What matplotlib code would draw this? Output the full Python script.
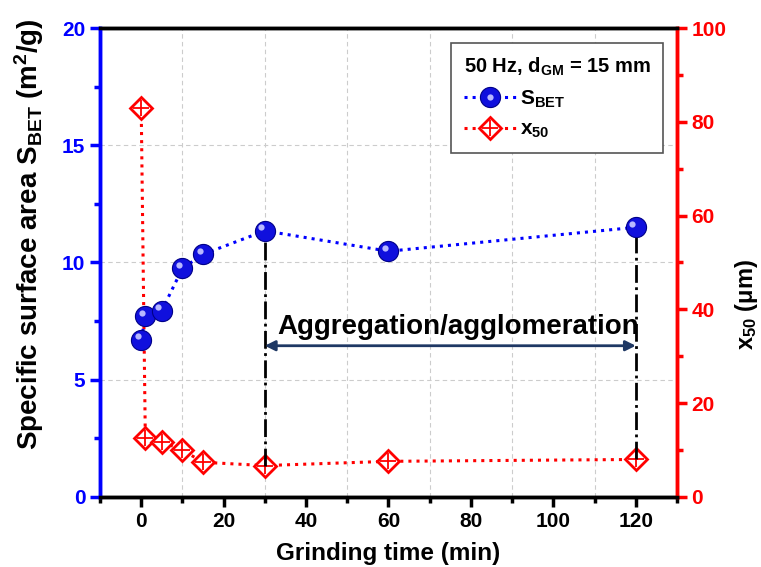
import numpy as np
import matplotlib.pyplot as plt
import matplotlib.transforms as mtrans
from matplotlib.legend_handler import HandlerTuple

plt.rcParams['font.family'] = ['Liberation Sans', 'DejaVu Sans']
plt.rcParams['font.weight'] = 'bold'
plt.rcParams['mathtext.fontset'] = 'custom'
plt.rcParams['mathtext.rm'] = 'Liberation Sans'
plt.rcParams['mathtext.bf'] = 'Liberation Sans:bold'
plt.rcParams['mathtext.it'] = 'Liberation Sans:italic'
plt.rcParams['mathtext.default'] = 'bf'

# Data
t_s = [0, 1, 5, 10, 15, 30, 60, 120]
s_bet = [6.7, 7.7, 7.95, 9.75, 10.35, 11.35, 10.48, 11.5]
t_x = [0, 1, 5, 10, 15, 30, 60, 120]
x50 = [83.0, 12.5, 11.8, 10.0, 7.4, 6.7, 7.6, 8.0]

fig = plt.figure(figsize=(7.61, 5.67), dpi=100)
ax = fig.add_axes([0.1314, 0.1235, 0.7582, 0.8271])
ax2 = ax.twinx()
ax.set_zorder(ax2.get_zorder() + 1)
ax.patch.set_visible(False)

# grid (on the back axes)
for gx in [10, 30, 50, 70, 90, 110]:
    ax2.axvline(gx, color='#cccccc', ls=(0, (4, 3)), lw=0.8, zorder=0)
for gy in [25, 50, 75]:
    ax2.axhline(gy, color='#cccccc', ls=(0, (4, 3)), lw=0.8, zorder=0)

# x50 on right axis
xd, = ax2.plot(t_x, x50, ls=':', color='#ff0000', lw=2.2, marker='D', ms=11.5,
               mfc='white', mec='#ff0000', mew=2, zorder=4)
xp, = ax2.plot(t_x, x50, ls='none', marker='+', ms=12, mec='#ff0000', mew=1.3, zorder=5)

# S_BET
sb, = ax.plot(t_s, s_bet, ls=':', color='#0000ff', lw=2.2, marker='o', ms=14.5,
              mfc='#1010dd', mec='#000088', mew=0.8, zorder=4)
hl, = ax.plot(t_s, s_bet, ls='none', marker='o', ms=4.5, mfc='#b8b8ff',
              mec='none', zorder=5)
hl.set_transform(ax.transData + mtrans.ScaledTranslation(-2.5 / 72, 2.5 / 72, fig.dpi_scale_trans))

# aggregation markers
ax.plot([30, 30], [x50[5] / 5, s_bet[5]], color='black', ls='-.', lw=2, zorder=2)
ax.plot([120, 120], [x50[7] / 5, s_bet[7]], color='black', ls='-.', lw=2, zorder=2)
ax.annotate('', xy=(30, 6.45), xytext=(120, 6.45),
            arrowprops=dict(arrowstyle='<|-|>', color='#1f3864', lw=2,
                            mutation_scale=15, shrinkA=0, shrinkB=0))
ax.text(77, 7.25, 'Aggregation/agglomeration', ha='center', va='center',
        fontsize=20, fontweight='bold')

ax.set_xlim(-10, 130)
ax.set_ylim(0, 20)
ax2.set_ylim(0, 100)
ax.set_xticks(np.arange(0, 121, 20))
ax.set_xticks(np.arange(-10, 131, 10), minor=True)
ax.set_yticks(np.arange(0, 21, 5))
ax.set_yticks(np.arange(0, 20.1, 2.5), minor=True)
ax2.set_yticks(np.arange(0, 101, 20))
ax2.set_yticks(np.arange(0, 101, 10), minor=True)

for a in (ax, ax2):
    for s in a.spines.values():
        s.set_linewidth(2.5)
    a.spines['left'].set_color('#0000ff')
    a.spines['right'].set_color('#ff0000')

ax.tick_params(axis='x', which='major', direction='out', length=7, width=2.5,
               labelsize=15, colors='black')
ax.tick_params(axis='x', which='minor', direction='out', length=4, width=2.5)
ax.tick_params(axis='y', which='major', direction='out', length=7, width=2.5,
               labelsize=15, colors='#0000ff')
ax.tick_params(axis='y', which='minor', direction='out', length=4, width=2.5,
               colors='#0000ff')
ax2.tick_params(axis='y', which='major', direction='out', length=7, width=2.5,
                labelsize=15, colors='#ff0000')
ax2.tick_params(axis='y', which='minor', direction='out', length=4, width=2.5,
                colors='#ff0000')
for lab in ax.get_xticklabels() + ax.get_yticklabels() + ax2.get_yticklabels():
    lab.set_fontweight('bold')

ax.set_xlabel('Grinding time (min)', fontsize=17.5, fontweight='bold', labelpad=8)
ax.set_ylabel('Specific surface area S$_{BET}$ (m$^2$/g)', fontsize=20,
              fontweight='bold')
ax.yaxis.set_label_coords(-0.093, 0.56)
ax2.set_ylabel('x$_{50}$ ($\\mathrm{\\mu}$m)', fontsize=17, fontweight='bold',
               rotation=90)
ax2.yaxis.set_label_coords(1.097, 0.41)

leg = ax.legend([(sb, hl), (xd, xp)], ['S$_{BET}$', 'x$_{50}$'],
                handler_map={tuple: HandlerTuple(ndivide=1, pad=0)},
                loc='upper right', bbox_to_anchor=(0.9757, 0.968), borderaxespad=0,
                title='50 Hz, d$_{GM}$ = 15 mm',
                title_fontproperties={'weight': 'bold', 'size': 14.5},
                fontsize=15, frameon=True, fancybox=False, edgecolor='#555555',
                framealpha=1, handlelength=2.5, borderpad=0.6, labelspacing=0.5,
                handletextpad=0.2)
leg._legend_box.align = 'left'
leg.get_frame().set_linewidth(1.2)

fig.savefig('out.png', dpi=100)
